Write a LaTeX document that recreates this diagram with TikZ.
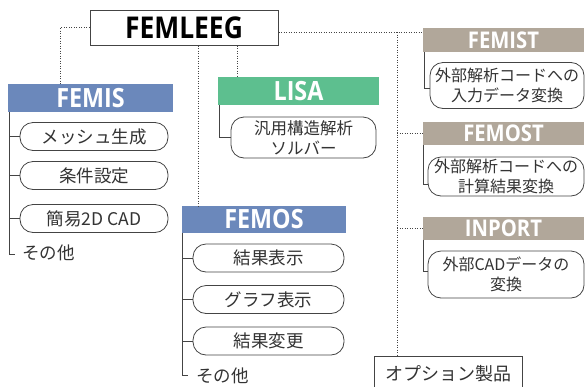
\documentclass[tikz,border=0pt]{standalone}
\usepackage{fontspec}
\newfontfamily\hdrfont[FakeStretch=0.88]{Open Sans}
\newfontfamily\jpfont{Noto Sans CJK JP}
\usetikzlibrary{calc}
\definecolor{blu}{HTML}{6B88BB}
\definecolor{grn}{HTML}{5DBF8F}
\definecolor{tau}{HTML}{B1A79A}
\definecolor{ln}{HTML}{444444}
\definecolor{txt}{HTML}{333333}
\tikzset{
  hdr/.style={fill=#1, text=white, font=\hdrfont\bfseries\fontsize{26.5}{26}\selectfont, inner sep=0pt},
  hdrs/.style={fill=#1, text=white, font=\hdrfont\bfseries\fontsize{23}{23}\selectfont, inner sep=0pt},
  pill/.style={draw=ln, line width=0.8pt, rounded corners=13pt, fill=white, text=txt,
    font=\jpfont\fontsize{17.5}{20.5}\selectfont, align=center, inner sep=0pt},
  smalltext/.style={font=\jpfont\fontsize{16}{20}\selectfont},
  plain/.style={text=txt, font=\jpfont\fontsize{17.5}{20}\selectfont, inner sep=0pt},
  dotl/.style={draw=ln, line width=0.9pt, dash pattern=on 0.9pt off 1.6pt},
  sl/.style={draw=ln, line width=0.8pt},
}
\begin{document}
\begin{tikzpicture}[x=1pt,y=-1pt]
\useasboundingbox (0,0) rectangle (585,386);
\clip (0,0) rectangle (585,386);
% main
\node[draw=ln, line width=1pt, fill=white, minimum width=188pt, minimum height=35pt, inner sep=0pt,
  font=\hdrfont\bfseries\fontsize{30}{30}\selectfont, text=black] (femleeg) at (184,27.5) {FEMLEEG};
% headers
\node[hdr=blu, minimum width=165pt, minimum height=28pt] (femis) at (90.5,98) {FEMIS};
\node[hdr=grn, minimum width=161pt, minimum height=28pt] (lisa) at (298.5,91) {LISA};
\node[hdr=blu, minimum width=164pt, minimum height=27pt] (femos) at (264,219.5) {FEMOS};
\node[hdrs=tau, minimum width=161pt, minimum height=24pt] (femist) at (503.5,40) {FEMIST};
\node[hdrs=tau, minimum width=161pt, minimum height=23pt] (femost) at (503.5,133.5) {FEMOST};
\node[hdrs=tau, minimum width=161pt, minimum height=23pt] (inport) at (503.5,228) {INPORT};
% FEMIS items
\node[pill, minimum width=148pt, minimum height=28pt] (mesh) at (94,136.5) {メッシュ生成};
\node[pill, minimum width=148pt, minimum height=28pt] (cond) at (94,175.5) {条件設定};
\node[pill, minimum width=148pt, minimum height=28pt] (cad) at (94,218.5) {簡易2D CAD};
\node[plain, anchor=west] (etc1) at (22,253) {その他};
% FEMOS items
\node[pill, minimum width=151pt, minimum height=28pt] (res) at (268.5,258) {結果表示};
\node[pill, minimum width=151pt, minimum height=28pt] (graph) at (268.5,299.5) {グラフ表示};
\node[pill, minimum width=151pt, minimum height=28pt] (chg) at (268.5,341) {結果変更};
\node[plain, anchor=west] (etc2) at (196,376) {その他};
% LISA item
\node[pill, smalltext, font=\jpfont\fontsize{16.5}{20}\selectfont, minimum width=145pt, minimum height=41pt] (solver) at (303.5,137.5) {汎用構造解析\\ソルバー};
% right items
\node[pill, smalltext, minimum width=154pt, minimum height=46pt] (in1) at (507,85.5) {外部解析コードへの\\入力データ変換};
\node[pill, smalltext, minimum width=156pt, minimum height=39pt] (out1) at (506,176.5) {外部解析コードへの\\計算結果変換};
\node[pill, smalltext, minimum width=156pt, minimum height=47pt] (imp) at (506,274.5) {外部CADデータの\\変換};
% option box
\node[draw=ln, line width=0.8pt, fill=white, minimum width=148pt, minimum height=36pt, inner sep=0pt,
  text=txt, font=\jpfont\fontsize{18}{20}\selectfont] (opt) at (448,374) {オプション製品};
% dotted connectors
\coordinate (rj) at (397,32);
\draw[dotl] (femleeg.west) -| ([xshift=-30.5pt]femis.north);
\draw[dotl] (femleeg.south -| 198,0) -- (femos.north -| 198,0);
\draw[dotl] (femleeg.south -| 237,0) -- (lisa.north -| 237,0);
\draw[dotl] (femleeg.east |- rj) -- (rj) -- (femist.west |- rj);
\draw[dotl] (rj) -- (opt.north -| rj);
\draw[dotl] (femost.west -| rj) -- (femost.west);
\draw[dotl] (inport.west -| rj) -- (inport.west);
% solid connectors
\draw[sl] (femis.south -| 9,0) -- (9,254) -- (15,254);
\draw[sl] (mesh.west -| 9,0) -- (mesh.west);
\draw[sl] (cond.west -| 9,0) -- (cond.west);
\draw[sl] (cad.west -| 9,0) -- (cad.west);
\draw[sl] (femos.south -| 182.5,0) -- (182.5,375) -- (188,375);
\draw[sl] (res.west -| 182.5,0) -- (res.west);
\draw[sl] (graph.west -| 182.5,0) -- (graph.west);
\draw[sl] (chg.west -| 182.5,0) -- (chg.west);
\draw[sl] (lisa.south -| 219.5,0) |- (solver.west);
\draw[sl] (femist.south -| 424,0) |- ([yshift=-3pt]in1.west);
\draw[sl] (femost.south -| 423.5,0) |- ([yshift=-8pt]out1.west);
\draw[sl] (inport.south -| 423.5,0) |- ([yshift=3pt]imp.west);
\end{tikzpicture}
\end{document}
